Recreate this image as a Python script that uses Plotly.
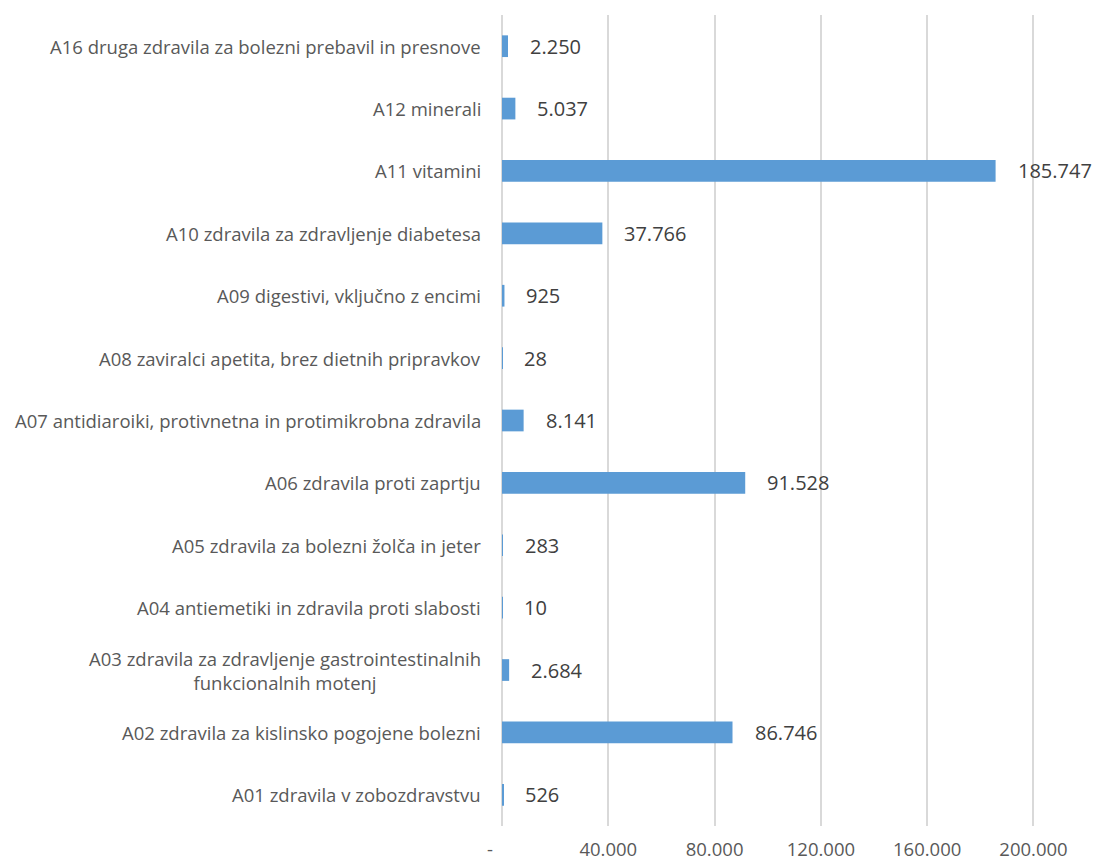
import plotly.graph_objects as go

categories = [
    "A01 zdravila v zobozdravstvu",
    "A02 zdravila za kislinsko pogojene bolezni",
    "A03 zdravila za zdravljenje gastrointestinalnih<br>funkcionalnih motenj",
    "A04 antiemetiki in zdravila proti slabosti",
    "A05 zdravila za bolezni žolča in jeter",
    "A06 zdravila proti zaprtju",
    "A07 antidiaroiki, protivnetna in protimikrobna zdravila",
    "A08 zaviralci apetita, brez dietnih pripravkov",
    "A09 digestivi, vključno z encimi",
    "A10 zdravila za zdravljenje diabetesa",
    "A11 vitamini",
    "A12 minerali",
    "A16 druga zdravila za bolezni prebavil in presnove",
]
values = [526, 86746, 2684, 10, 283, 91528, 8141, 28, 925, 37766, 185747, 5037, 2250]

tick_vals = [0, 40000, 80000, 120000, 160000, 200000]
tick_text = ["-\u00a0\u00a0\u00a0\u00a0\u00a0", "40.000", "80.000", "120.000", "160.000", "200.000"]


def fmt(v):
    return f"{v:,}".replace(",", ".")


ypos = list(range(len(categories)))

fig = go.Figure()
fig.add_trace(go.Bar(
    x=values,
    y=ypos,
    orientation="h",
    marker=dict(color="#5B9BD5", line=dict(width=0)),
    hoverinfo="skip",
))

annotations = []
for i, (c, v) in enumerate(zip(categories, values)):
    annotations.append(dict(
        x=0, y=i, xref="x", yref="y", text=c, showarrow=False,
        xanchor="right", yanchor="middle", xshift=-19, align="center",
        font=dict(family="Open Sans", size=18.5, color="#595959"),
    ))
    annotations.append(dict(
        x=v, y=i, xref="x", yref="y", text=fmt(v), showarrow=False,
        xanchor="left", yanchor="middle", xshift=20,
        font=dict(family="Open Sans", size=20, color="#404040"),
    ))

fig.update_layout(
    width=1095, height=859,
    margin=dict(l=502, r=6, t=15, b=33),
    paper_bgcolor="white", plot_bgcolor="white",
    showlegend=False,
    bargap=0.652,
    annotations=annotations,
    xaxis=dict(
        range=[0, 220900],
        tickvals=tick_vals, ticktext=tick_text,
        showgrid=True, gridcolor="#D9D9D9", gridwidth=1.5,
        zeroline=True, zerolinecolor="#D9D9D9", zerolinewidth=1.5,
        showline=False, ticks="",
        automargin=False,
        ticklabelstandoff=10,
        tickfont=dict(family="Open Sans", size=18.5, color="#595959"),
    ),
    yaxis=dict(
        range=[-0.5, 12.5],
        automargin=False,
        showticklabels=False, showgrid=False, zeroline=False,
        showline=False, ticks="",
    ),
)

fig.write_html(
    "out.html",
    config={"displayModeBar": False},
    post_script="document.body.style.margin='0';document.body.style.overflow='hidden';",
)
